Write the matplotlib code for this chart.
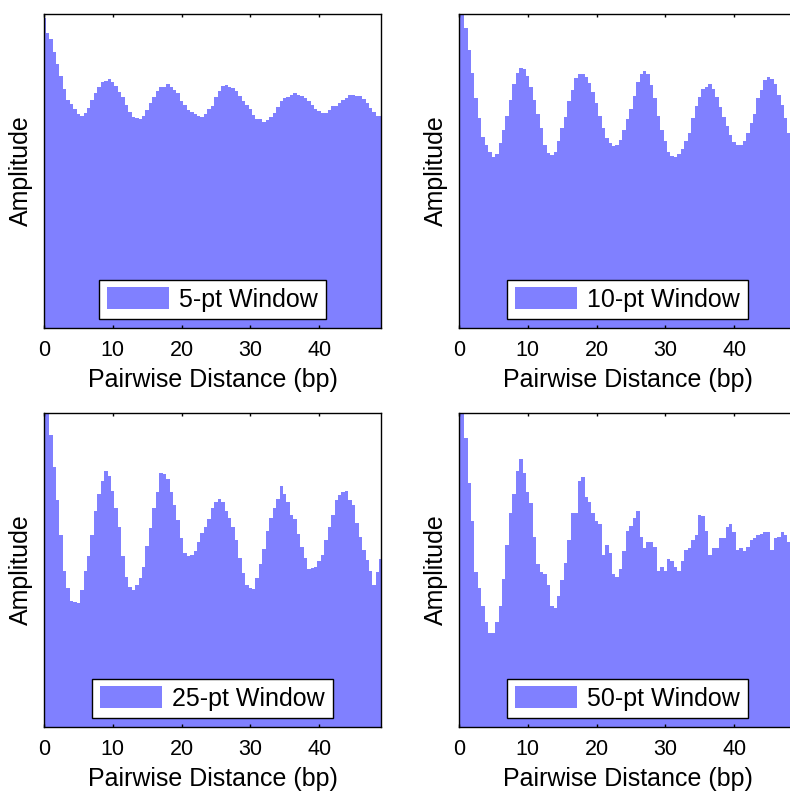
import numpy as np
import matplotlib
matplotlib.use('agg')
import matplotlib.pyplot as plt

plt.rcParams['font.family'] = ['Liberation Sans', 'DejaVu Sans']

BAR_COLOR = '#8080ff'
STEP = 0.5  # pairwise distance step (bp)

# amplitude, 0-100 scale of the visible axis range
amp_5pt = [98.6, 94.1, 91.9, 88.0, 84.0, 80.4, 76.1, 72.6, 71.4, 69.8,
           68.2, 67.6, 68.4, 70.0, 72.6, 74.8, 76.7, 78.2, 78.8, 79.3,
           78.5, 77.2, 75.3, 73.5, 71.0, 68.9, 67.3, 67.0, 66.6, 67.6,
           69.5, 71.6, 73.5, 75.6, 76.7, 76.9, 77.7, 76.7, 75.8, 74.8,
           72.4, 71.0, 69.5, 68.9, 68.2, 67.6, 67.1, 68.2, 69.7, 70.7,
           73.5, 75.6, 77.1, 77.4, 76.9, 76.4, 75.6, 73.9, 72.4, 71.0,
           69.7, 67.9, 66.6, 66.6, 65.7, 66.3, 67.1, 68.4, 70.5, 72.4,
           73.2, 73.5, 74.2, 74.8, 74.2, 73.9, 73.2, 72.4, 71.0, 69.7,
           69.2, 68.4, 68.6, 69.5, 70.7, 70.7, 71.6, 72.6, 73.2, 74.2,
           74.2, 73.9, 73.9, 72.9, 71.6, 70.0, 68.9, 67.6, 67.6]

amp_10pt = [104.0, 100.0, 95.4, 88.5, 81.1, 73.2, 66.8, 60.8, 58.3, 56.2,
            54.3, 55.5, 58.9, 63.1, 67.6, 72.6, 77.7, 81.3, 82.7, 82.4,
            80.1, 76.9, 72.6, 68.2, 63.6, 58.3, 55.7, 55.0, 56.2, 59.4,
            63.6, 67.3, 72.4, 75.8, 79.5, 80.9, 80.9, 79.9, 77.9, 75.3,
            71.6, 67.6, 63.6, 60.4, 58.9, 58.1, 58.3, 59.9, 63.1, 66.5,
            69.7, 73.9, 78.5, 80.8, 81.9, 80.9, 77.4, 73.2, 67.6, 63.1,
            59.7, 56.2, 54.9, 54.6, 55.5, 56.9, 59.4, 62.2, 66.8, 70.7,
            73.5, 76.0, 76.7, 77.7, 76.0, 73.7, 70.5, 67.1, 64.2, 61.5,
            59.1, 58.3, 58.3, 59.4, 62.0, 65.4, 68.2, 73.2, 75.8, 79.0,
            79.9, 79.2, 77.7, 74.2, 71.0, 66.8, 62.2, 59.1, 58.9]

amp_25pt = [104.0, 100.0, 93.1, 82.7, 72.3, 61.2, 49.8, 44.4, 40.1, 39.7,
            39.4, 43.6, 49.8, 54.3, 61.2, 68.8, 74.1, 78.4, 81.6, 79.8,
            75.2, 69.9, 63.8, 54.5, 47.9, 44.7, 43.6, 45.2, 47.3, 50.9,
            57.7, 63.5, 69.7, 74.8, 80.9, 80.5, 79.0, 74.8, 70.7, 66.0,
            60.1, 55.3, 54.6, 54.8, 56.1, 58.8, 61.7, 63.8, 66.3, 69.9,
            71.6, 72.7, 71.8, 68.8, 66.5, 63.8, 59.6, 53.7, 48.9, 45.2,
            44.4, 43.8, 47.3, 51.8, 56.7, 62.4, 66.5, 69.9, 72.7, 76.6,
            74.1, 71.8, 67.6, 66.3, 61.4, 57.4, 53.7, 50.3, 50.5, 51.1,
            52.9, 54.8, 59.6, 63.8, 67.6, 72.3, 73.9, 75.0, 75.2, 72.3,
            70.7, 64.9, 60.6, 56.4, 53.2, 49.7, 45.2, 49.5, 53.5]

amp_50pt = [104.0, 100.0, 92.0, 77.7, 65.6, 49.5, 44.4, 38.5, 33.5, 30.0,
            30.0, 33.5, 38.5, 47.1, 58.0, 68.3, 74.1, 81.6, 85.4, 80.9,
            75.0, 71.3, 60.4, 51.8, 49.3, 48.6, 45.2, 38.5, 37.8, 41.7,
            46.8, 52.3, 59.6, 68.1, 68.1, 78.4, 79.5, 73.4, 71.8, 68.1,
            65.6, 64.6, 54.8, 58.0, 55.3, 48.6, 47.9, 50.3, 56.2, 62.4,
            64.1, 66.5, 68.8, 60.6, 57.1, 59.0, 59.0, 57.4, 49.8, 50.9,
            49.8, 53.5, 52.9, 51.1, 49.8, 53.0, 56.4, 57.1, 59.6, 61.2,
            67.6, 67.2, 62.4, 54.8, 56.9, 56.9, 60.1, 60.3, 63.8, 64.7,
            62.0, 56.4, 56.9, 56.2, 57.2, 59.6, 60.1, 61.0, 61.4, 62.0,
            62.0, 56.4, 60.1, 60.4, 62.0, 61.2, 59.0, 54.8, 57.4]

labels = ['5-pt Window', '10-pt Window', '25-pt Window', '50-pt Window']
series = [amp_5pt, amp_10pt, amp_25pt, amp_50pt]

W, H = 790, 792
# axes boxes in pixels: left, top, right, bottom
boxes = [(44, 14, 381, 328), (459, 14, 796, 328),
         (44, 413, 381, 727), (459, 413, 796, 727)]

fig = plt.figure(figsize=(W / 100, H / 100), dpi=100)

for (l, t, r, b), vals, lab in zip(boxes, series, labels):
    ax = fig.add_axes([l / W, 1 - b / H, (r - l) / W, (b - t) / H])
    x = STEP * np.arange(len(vals))
    ax.bar(x, vals, width=STEP, color=BAR_COLOR, linewidth=0,
           antialiased=False, label=lab)
    ax.set_xlim(0, 49)
    ax.set_ylim(0, 100)
    ax.set_xticks([0, 10, 20, 30, 40])
    ax.set_yticks([])
    ax.tick_params(axis='x', direction='in', top=True, length=2.5, width=1,
                   labelsize=15.5, pad=8.5)
    for sp in ax.spines.values():
        sp.set_linewidth(1.0)
        sp.set_zorder(5)
    ax.set_xlabel('Pairwise Distance (bp)', fontsize=18, labelpad=5.5)
    ax.set_ylabel('Amplitude', fontsize=18, labelpad=8)
    leg = ax.legend(loc='lower center', fontsize=18, fancybox=False,
                    framealpha=1, edgecolor='black', borderpad=0.3,
                    handlelength=2.5, handleheight=1.0, handletextpad=0.4,
                    borderaxespad=0.35)
    leg.get_frame().set_linewidth(1.0)

plt.savefig('out.png', dpi=100)
